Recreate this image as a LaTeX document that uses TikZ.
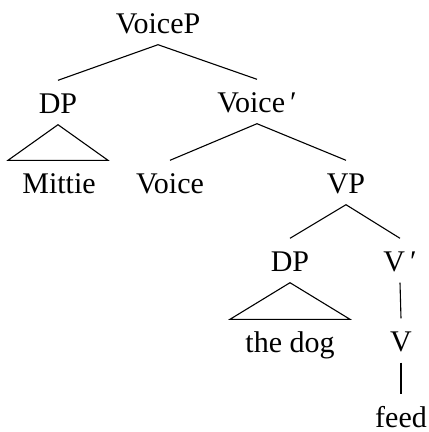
\documentclass[tikz,border=0pt]{standalone}
\usepackage{fontspec}
\setmainfont{Liberation Serif}
\usetikzlibrary{calc}
\begin{document}
\begin{tikzpicture}[x=1pt,y=-1pt,
  lab/.style={anchor=base,inner xsep=1pt,inner ysep=11.5pt,text height=21pt,text depth=0pt,
    font=\fontsize{30}{36}\selectfont},
  leaf/.style={lab,inner ysep=2pt,text height=30.5pt},
  edge/.style={line width=1.1pt}]
\useasboundingbox (0,0) rectangle (429,432);
\node[lab] (voicep) at (158,33) {VoiceP};
\node[lab] (dp1) at (58,113) {DP};
\node[lab] (voicebar) at (257,112) {Voice\,′};
\node[lab] (mittie) at (59,193) {Mittie};
\node[lab] (voice) at (170,193) {Voice};
\node[lab] (vp) at (346,193) {VP};
\node[lab] (dp2) at (290,271) {DP};
\node[lab] (vbar) at (400,271) {V\,′};
\node[lab] (thedog) at (290,352) {the dog};
\node[lab] (v) at (401,351) {V};
\node[leaf] (feed) at (401,427) {feed};
\draw[edge] (dp1.north) -- (voicep.south) -- (voicebar.north);
\draw[edge] (voice.north) -- (voicebar.south) -- (vp.north);
\draw[edge] (dp2.north) -- (vp.south) -- (vbar.north);
\draw[edge] (vbar.south) -- (v.north);
\draw[edge] (v.south) -- (feed.north);
\draw[edge,line join=miter] (dp1.south) -- ($(mittie.north)+(-51,0)$) -- ($(mittie.north)+(49,0)$) -- cycle;
\draw[edge,line join=miter] (dp2.south) -- ($(thedog.north)+(-60,0)$) -- ($(thedog.north)+(60,0)$) -- cycle;
\end{tikzpicture}
\end{document}
